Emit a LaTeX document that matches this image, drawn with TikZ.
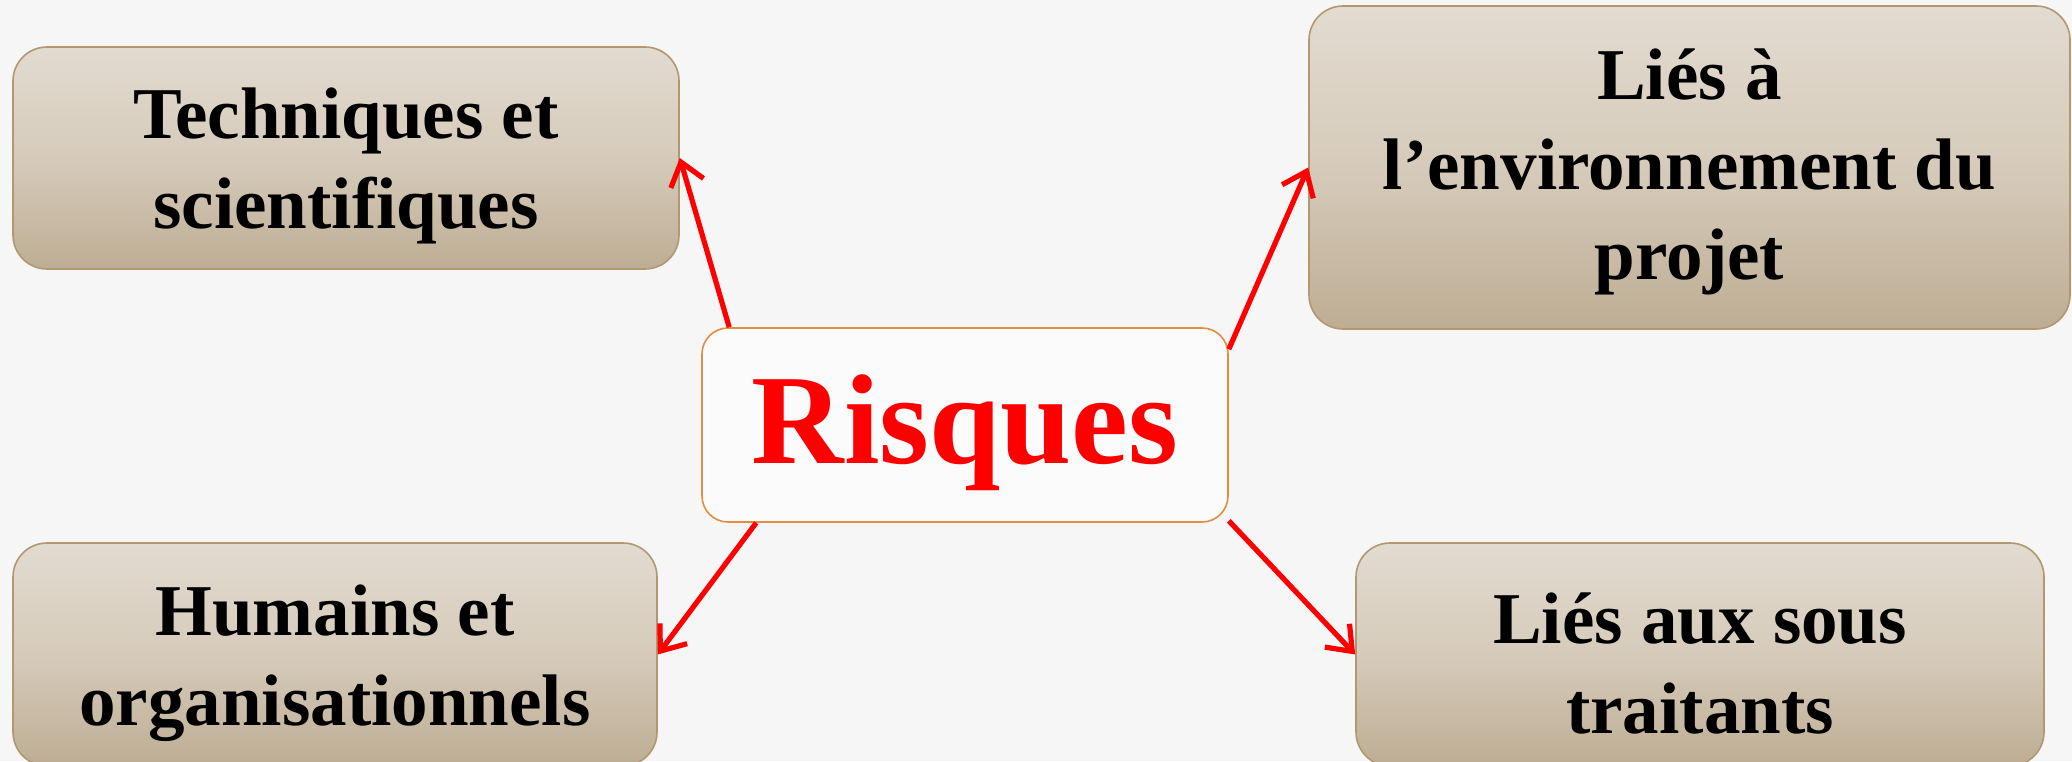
\documentclass[tikz,border=0pt]{standalone}
\usepackage{fontspec}
\setmainfont{Liberation Serif}
\usetikzlibrary{arrows.meta}
\definecolor{bgc}{RGB}{246,246,246}
\definecolor{boxtop}{RGB}{226,219,208}
\definecolor{boxmid}{RGB}{214,203,187}
\definecolor{boxbot}{RGB}{189,173,147}
\definecolor{boxline}{RGB}{178,152,112}
\definecolor{cline}{RGB}{226,142,64}
\definecolor{arrred}{RGB}{255,0,0}
\tikzset{
  catbox/.style={rounded corners=17pt, draw=boxline, line width=0.8pt,
    top color=boxtop, bottom color=boxbot, middle color=boxmid, inner sep=0pt},
  cattext/.style={align=center, inner sep=0pt, font=\bfseries\fontsize{36.5}{45}\selectfont},
  centerbox/.style={rounded corners=13pt, draw=cline, line width=0.8pt,
    fill=white!60!bgc, inner sep=0pt},
  centertext/.style={inner sep=0pt, text=arrred, font=\bfseries\fontsize{64}{70}\selectfont},
  link/.style={draw=arrred, line width=2.6pt,
    -{Straight Barb[length=11pt,width=17pt,line width=2.6pt]}}
}
\begin{document}
\begin{tikzpicture}[x=0.5pt,y=-0.5pt]
\fill[bgc] (0,0) rectangle (2072,761);
\useasboundingbox (0,0) rectangle (2072,761);
\node[catbox, minimum width=333pt, minimum height=111pt] (tl) at (346,158) {};
\node[cattext] (tlt) at (346,166) {Techniques et\\scientifiques};
\node[catbox, minimum width=380.5pt, minimum height=161.5pt] (tr) at (1689.5,167.5) {};
\node[cattext] (trt) at (1689.5,172) {Liés à\\l’environnement du\\projet};
\node[catbox, minimum width=322pt, minimum height=111.5pt] (bl) at (335,654.5) {};
\node[cattext] (blt) at (335,663) {Humains et\\organisationnels};
\node[catbox, minimum width=344pt, minimum height=111.5pt] (br) at (1700,654.5) {};
\node[cattext] (brt) at (1700,663) {Liés aux sous\\traitants};
\node[centerbox, minimum width=263pt, minimum height=97pt] (c) at (965,425) {};
\node[centertext] (ct) at (965,433) {Risques};
\draw[link] ([xshift=14pt]c.north west) -- (tl.east);
\draw[link] ([yshift=-11pt]c.north east) -- (tr.west);
\draw[link] ([xshift=27.5pt]c.south west) -- (bl.east);
\draw[link] ([yshift=1pt]c.south east) -- (br.west);
\end{tikzpicture}
\end{document}
